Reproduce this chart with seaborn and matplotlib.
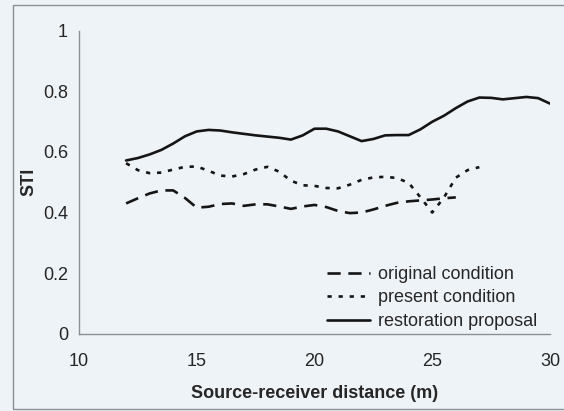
import matplotlib
matplotlib.use("Agg")
import matplotlib.pyplot as plt
import matplotlib.patches as mpatches
import numpy as np
import pandas as pd
import seaborn as sns

# Source-receiver distance (m) and STI for each acoustic condition
dist_original = [12.0, 12.5, 13.0, 13.5, 14.0, 14.5, 15.0, 15.5, 16.0, 16.5,
                 17.0, 17.5, 18.0, 18.5, 19.0, 19.5, 20.0, 20.5, 21.0, 21.5,
                 22.0, 22.5, 23.0, 23.5, 24.0, 24.5, 25.0, 25.5, 26.0]
sti_original = [0.430, 0.447, 0.463, 0.473, 0.473, 0.448, 0.416, 0.419, 0.428, 0.430,
                0.422, 0.427, 0.427, 0.420, 0.412, 0.420, 0.425, 0.418, 0.405, 0.398,
                0.400, 0.410, 0.422, 0.432, 0.437, 0.440, 0.443, 0.447, 0.450]

dist_present = [12.0, 12.5, 13.0, 13.5, 14.0, 14.5, 15.0, 15.5, 16.0, 16.5,
                17.0, 17.5, 18.0, 18.5, 19.0, 19.5, 20.0, 20.5, 21.0, 21.5,
                22.0, 22.5, 23.0, 23.5, 24.0, 24.5, 25.0, 25.5, 26.0, 26.5, 27.0]
sti_present = [0.563, 0.540, 0.530, 0.532, 0.542, 0.551, 0.552, 0.538, 0.522, 0.519,
               0.527, 0.542, 0.551, 0.535, 0.505, 0.490, 0.488, 0.481, 0.480, 0.492,
               0.508, 0.516, 0.518, 0.514, 0.498, 0.450, 0.400, 0.450, 0.515, 0.540, 0.550]

dist_restoration = [12.0, 12.5, 13.0, 13.5, 14.0, 14.5, 15.0, 15.5, 16.0, 16.5,
                    17.0, 17.5, 18.0, 18.5, 19.0, 19.5, 20.0, 20.5, 21.0, 21.5,
                    22.0, 22.5, 23.0, 23.5, 24.0, 24.5, 25.0, 25.5, 26.0, 26.5,
                    27.0, 27.5, 28.0, 28.5, 29.0, 29.5, 30.0]
sti_restoration = [0.572, 0.580, 0.592, 0.607, 0.628, 0.652, 0.668, 0.673, 0.671, 0.665,
                   0.660, 0.655, 0.651, 0.647, 0.641, 0.655, 0.677, 0.677, 0.668, 0.652,
                   0.636, 0.643, 0.655, 0.656, 0.656, 0.675, 0.700, 0.720, 0.745, 0.767,
                   0.780, 0.779, 0.774, 0.778, 0.782, 0.778, 0.760]

series_labels = ["original condition", "present condition", "restoration proposal"]
x_ticks = [10, 15, 20, 25, 30]
y_ticks = [0, 0.2, 0.4, 0.6, 0.8, 1]
y_tick_labels = ["0", "0.2", "0.4", "0.6", "0.8", "1"]

sns.set_theme(style="white")
plt.rcParams["font.family"] = ["Liberation Sans", "DejaVu Sans"]

bg = "#eef3f7"
ink = "#151515"
text_col = "#262626"
axis_col = "#8c8f96"
fs = 13

fig = plt.figure(figsize=(5.64, 4.11), dpi=100, facecolor=bg)
ax = fig.add_axes([79 / 564, 1 - 333.5 / 411, (550 - 79) / 564, (333.5 - 31) / 411])
ax.set_facecolor(bg)

# outer chart-area frame
fig.patches.append(mpatches.Rectangle((13 / 564, 1 - 409 / 411), 1.2, (409 - 5) / 411,
                                      transform=fig.transFigure, fill=False,
                                      edgecolor=axis_col, linewidth=1.0))

lw = 1.9
styles = [(0, (5.0, 2.9)), (0, (1.6, 2.6)), "-"]
datasets = [(dist_original, sti_original),
            (dist_present, sti_present),
            (dist_restoration, sti_restoration)]
for (xs, ys), lab, ls in zip(datasets, series_labels, styles):
    df = pd.DataFrame({"distance": xs, "STI": ys})
    sns.lineplot(data=df, x="distance", y="STI", ax=ax, color=ink, linewidth=lw,
                 linestyle=ls, label=lab, sort=False, estimator=None)

for line in ax.get_lines():
    line.set_dash_capstyle("butt")
    line.set_solid_capstyle("round")

ax.set_xlim(10, 30)
ax.set_ylim(0, 1)
ax.set_xticks(x_ticks)
ax.set_xticklabels([str(t) for t in x_ticks])
ax.set_yticks(y_ticks)
ax.set_yticklabels(y_tick_labels)

for side in ["top", "right"]:
    ax.spines[side].set_visible(False)
for side in ["left", "bottom"]:
    ax.spines[side].set_color(axis_col)
    ax.spines[side].set_linewidth(1.0)

ax.tick_params(axis="both", direction="out", length=4, width=1.0, color=axis_col,
               labelsize=fs, labelcolor=text_col)
ax.tick_params(axis="y", pad=4)
ax.tick_params(axis="x", pad=10)

ax.set_xlabel("Source-receiver distance (m)", fontsize=fs, fontweight="bold",
              color=text_col, labelpad=11)
ax.set_ylabel("STI", fontsize=fs, fontweight="bold", color=text_col, labelpad=4)

leg = ax.legend(loc="upper left", bbox_to_anchor=(327 / 564, 1 - 266 / 411),
                bbox_transform=fig.transFigure, frameon=False, fontsize=fs,
                handlelength=2.4, handletextpad=0.4, labelspacing=0.36,
                borderpad=0, borderaxespad=0)
for t in leg.get_texts():
    t.set_color(text_col)

fig.savefig("out.png", dpi=100, facecolor=bg)
